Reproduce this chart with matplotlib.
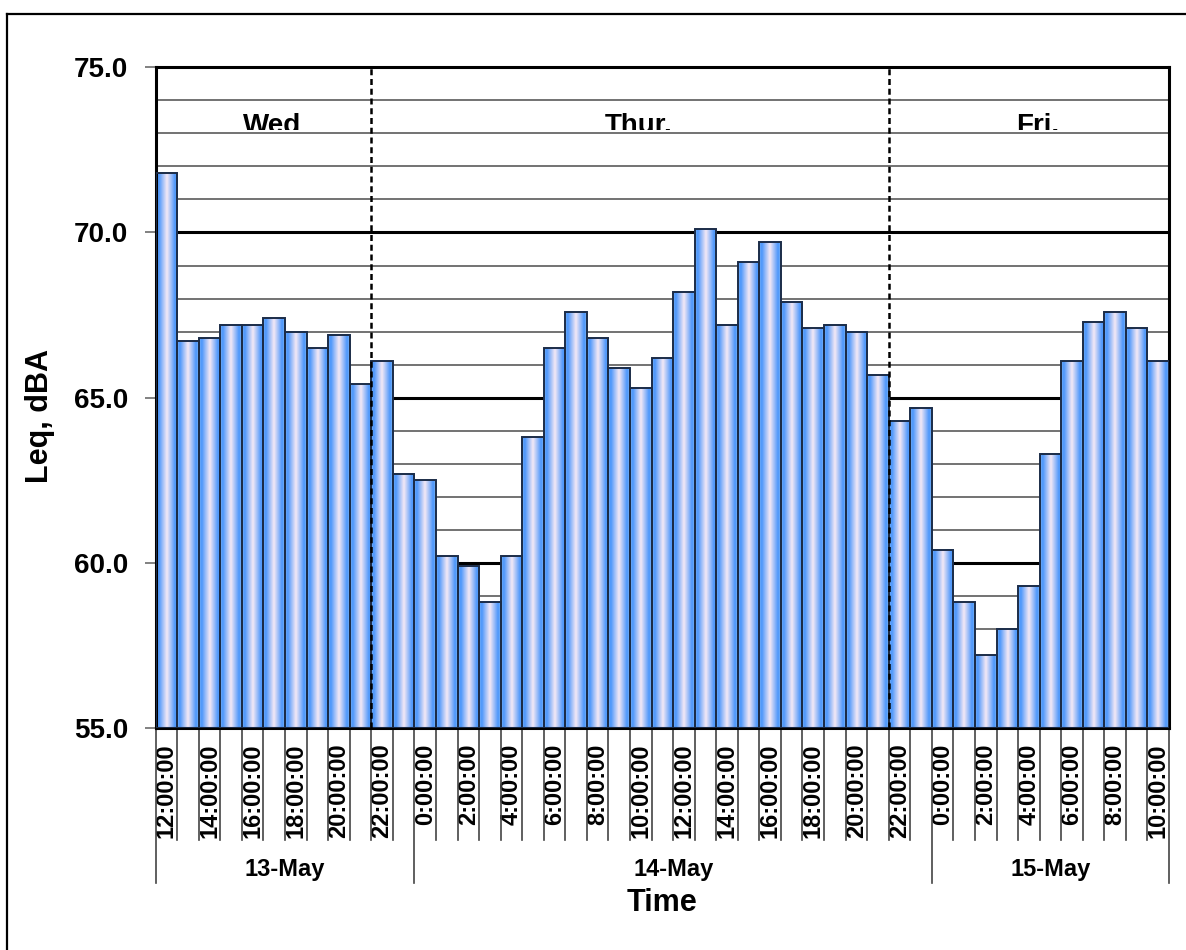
import numpy as np
import matplotlib
matplotlib.use('Agg')
import matplotlib.pyplot as plt
from matplotlib.colors import LinearSegmentedColormap
from matplotlib.lines import Line2D
from matplotlib.transforms import Bbox, TransformedBbox, blended_transform_factory

plt.rcParams['font.family'] = ['Liberation Sans', 'DejaVu Sans']
plt.rcParams['font.weight'] = 'bold'

# hourly Leq readings, 13-May 12:00 through 15-May 10:00
hours = [12, 13, 14, 15, 16, 17, 18, 19, 20, 21, 22, 23,
         0, 1, 2, 3, 4, 5, 6, 7, 8, 9, 10, 11, 12, 13, 14, 15, 16, 17, 18, 19, 20, 21, 22, 23,
         0, 1, 2, 3, 4, 5, 6, 7, 8, 9, 10]
leq = [71.8, 66.7, 66.8, 67.2, 67.2, 67.4, 67.0, 66.5, 66.9, 65.4, 66.1, 62.7,
       62.5, 60.2, 59.9, 58.8, 60.2, 63.8, 66.5, 67.6, 66.8, 65.9, 65.3, 66.2,
       68.2, 70.1, 67.2, 69.1, 69.7, 67.9, 67.1, 67.2, 67.0, 65.7, 64.3, 64.7,
       60.4, 58.8, 57.2, 58.0, 59.3, 63.3, 66.1, 67.3, 67.6, 67.1, 66.1]
dates = ['13-May', '14-May', '15-May']
days = ['Wed', 'Thur.', 'Fri.']
yticks = [55, 60, 65, 70, 75]

n = len(leq)
x = np.arange(n)
ylo, yhi = 55, 75

fig = plt.figure(figsize=(11.86, 9.5), dpi=100)
ax = fig.add_axes([155.7 / 1186, 1 - 728 / 950, (1169 - 155.7) / 1186, (728 - 67.3) / 950])

# horizontal grid: thin every 1 dB, heavy every 5 dB
for v in range(ylo + 1, yhi):
    if v % 5:
        ax.axhline(v, color='#5a5a5a', lw=1.2, zorder=0.5)
    else:
        ax.axhline(v, color='black', lw=2.2, zorder=0.6)

# bars with the horizontal blue/white gradient
cmap = LinearSegmentedColormap.from_list('barfill', [
    (0.0, '#78b0f6'), (0.12, '#4a95fb'), (0.5, '#f6e9f5'), (0.88, '#4a95fb'), (1.0, '#82b8f6')])
grad = np.linspace(0, 1, 64).reshape(1, -1)
bars = ax.bar(x, np.array(leq) - ylo, bottom=ylo, width=1.0, facecolor='none',
              edgecolor='#1b2c48', lw=1.4, zorder=3)
for b in bars:
    ax.imshow(grad, cmap=cmap, aspect='auto', interpolation='bilinear', zorder=2,
              extent=[b.get_x(), b.get_x() + b.get_width(), ylo, ylo + b.get_height()])

ax.set_xlim(-0.5, n - 0.5)
ax.set_ylim(ylo, yhi)

# day split lines at 22:00
splits = [i for i, h in enumerate(hours) if h == 22]
for s in splits:
    ax.axvline(s - 0.5, color='black', lw=1.8, dashes=(2.4, 1.5), zorder=4)

# day names at top, bottoms clipped like the original
edges = [-0.5] + [s - 0.5 for s in splits] + [n - 0.5]
clip = TransformedBbox(Bbox([[-0.5, 73.1], [n - 0.5, yhi]]), ax.transData)
for i, d in enumerate(days):
    c = (edges[i] + edges[i + 1]) / 2 + 0.4
    t = ax.text(c, 73.02, d, ha='center', va='baseline', fontsize=20, fontweight='bold', zorder=5)
    t.set_clip_box(clip)
    t.set_clip_on(True)

for sp in ax.spines.values():
    sp.set_color('black')
    sp.set_linewidth(2.2)

ax.set_yticks(yticks)
ax.set_yticklabels([f'{v:.1f}' for v in yticks])
ax.tick_params(axis='y', length=8, width=1.3, color='#777777', pad=12, labelsize=20)

ax.set_xticks(x[::2])
ax.set_xticklabels([f'{h}:00:00' for h in hours[::2]], rotation=90)
ax.tick_params(axis='x', length=0, pad=11, labelsize=17)

# category separators below the axis
trans = blended_transform_factory(ax.transData, ax.transAxes)
date_starts = [0] + [i for i, h in enumerate(hours) if h == 0] + [n]
for k in range(n + 1):
    low = -0.2346 if k in date_starts else -0.1695
    ax.plot([k - 0.5, k - 0.5], [0, low], color='#444444', lw=1.2,
            transform=trans, clip_on=False)
for i, d in enumerate(dates):
    c = (date_starts[i] + date_starts[i + 1]) / 2 - 0.5
    ax.text(c, -0.2149, d, transform=trans, ha='center', va='center', fontsize=17, fontweight='bold')

fig.text(662 / 1186, 1 - 903 / 950, 'Time', ha='center', va='center', fontsize=22, fontweight='bold')
fig.text(40 / 1186, 1 - 416 / 950, 'Leq, dBA', ha='center', va='center', rotation=90,
         fontsize=22, fontweight='bold')

# outer chart frame (left and top edges visible)
fig.add_artist(Line2D([7 / 1186, 7 / 1186], [0, 1 - 14 / 950], transform=fig.transFigure, color='black', lw=1.6))
fig.add_artist(Line2D([7 / 1186, 1], [1 - 14 / 950, 1 - 14 / 950], transform=fig.transFigure, color='black', lw=1.6))

fig.savefig('out.png', dpi=100)
